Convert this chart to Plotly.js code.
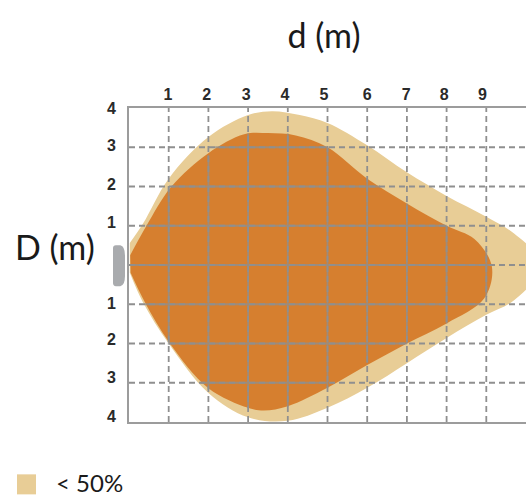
<!DOCTYPE html>
<html>
<head>
<meta charset="utf-8">
<script src="https://cdn.plot.ly/plotly-3.0.1.min.js"></script>
<style>html,body{margin:0;padding:0;background:#fff}</style>
</head>
<body>
<div id="plot" style="width:526px;height:498px"></div>
<script>
// outline of the light zone (< 50%)
var outerD = [0.02,0.35,1,2,3,3.6,4.3,5,6,7,8,9,9.7,10.4,9.7,9,8,7,6,5,4,3,2,1,0.35,0.02];
var outerH = [0.56,1.05,2.2,3.26,3.82,3.92,3.82,3.62,3.05,2.36,1.76,1.23,0.8,0,-0.9,-1.27,-1.86,-2.5,-3.13,-3.64,-3.97,-3.88,-3.26,-2,-0.95,-0.2];

// outline of the dark zone
var innerD = [0.03,0.44,1.07,2,2.9,3.5,4.2,5,6,7,8,8.7,9.14,8.95,8,7,6,5,4,3.4,3,2,1.03,0.4,0.04];
var innerH = [0.25,1,2,2.85,3.33,3.36,3.3,3,2.2,1.57,1,0.66,-0.04,-0.85,-1.49,-2,-2.55,-3.13,-3.6,-3.71,-3.64,-3.14,-2,-0.95,-0.2];

var gridD = [1,2,3,4,5,6,7,8,9];
var gridH = [3,2,1,0,-1,-2,-3];

// where the grid runs inside the dark zone it looks solid
var solidLow = [-2.03,-3.18,-3.64,-3.61,-3.13,-2.5,-2,-1.49,-0.81];
var solidHigh = [2,2.8,3.35,3.35,3,2.2,1.57,1,0.42];
var solidFrom = [2.17,1.07,0.44,0.03,0.4,1,1.8];
var solidTo = [5,6.32,8,9.14,8.9,7,5];

var topLabels = ["1","2","3","4","5","6","7","8","9"];
var topLabelPos = [0.98,1.96,2.95,3.93,4.91,6,6.98,7.94,8.9];
var sideLabels = ["4","3","2","1","1","2","3","4"];
var sideLabelPos = [3.99,3.05,2.05,1.08,-0.97,-1.9,-2.87,-3.85];

var gridColor = "#8f8f8f";

var dashX = [], dashY = [], solidX = [], solidY = [];
gridD.forEach(function(d, i) {
    dashX.push(d, d, null);
    dashY.push(-4, 4, null);
    solidX.push(d, d, null);
    solidY.push(solidLow[i], solidHigh[i], null);
});
gridH.forEach(function(h, i) {
    dashX.push(0, 10, null);
    dashY.push(h, h, null);
    solidX.push(solidFrom[i], solidTo[i], null);
    solidY.push(h, h, null);
});

var data = [
    {x: outerD, y: outerH, mode: "lines", fill: "toself", fillcolor: "#e8cd96",
     line: {color: "#e8cd96", width: 0, shape: "spline", smoothing: 1}, hoverinfo: "skip"},
    {x: innerD, y: innerH, mode: "lines", fill: "toself", fillcolor: "#d67f2f",
     line: {color: "#d67f2f", width: 0, shape: "spline", smoothing: 1}, hoverinfo: "skip"},
    {x: dashX, y: dashY, mode: "lines", line: {color: gridColor, width: 1.8, dash: "6px,4px"}, hoverinfo: "skip"},
    {x: solidX, y: solidY, mode: "lines", line: {color: gridColor, width: 1.8}, opacity: 0.75, hoverinfo: "skip"}
];

var layout = {
    width: 526,
    height: 498,
    margin: {l: 129, r: 0, t: 108, b: 76},
    showlegend: false,
    paper_bgcolor: "#fff",
    plot_bgcolor: "#fff",
    font: {family: "Lato, sans-serif", color: "#1a1a1a"},
    title: {text: "d (m)", font: {size: 34, family: "Lato, sans-serif", color: "#1a1a1a"},
            x: 324 / 526, xanchor: "center", y: 1 - 36 / 498, yanchor: "middle"},
    xaxis: {
        range: [0, 10], side: "top", showgrid: false, zeroline: false,
        showline: true, mirror: true, linecolor: "#9c9c9c", linewidth: 2,
        tickmode: "array", tickvals: topLabelPos, ticktext: topLabels,
        ticks: "", tickfont: {family: "Liberation Sans", size: 16, color: "#2a2a2a", weight: "bold"}
    },
    yaxis: {
        range: [-4, 4], showgrid: false, zeroline: false,
        showline: true, linecolor: "#9c9c9c", linewidth: 2,
        tickmode: "array", tickvals: sideLabelPos, ticktext: sideLabels,
        ticks: "", ticklabelstandoff: 8,
        tickfont: {family: "Liberation Sans", size: 16, color: "#2a2a2a", weight: "bold"}
    },
    annotations: [
        {text: "D (m)", xref: "paper", yref: "paper", x: -74 / 397, y: (421.7 - 246) / 313.7,
         xanchor: "center", yanchor: "middle", showarrow: false, font: {size: 34}},
        {text: "&lt; 50%", xref: "paper", yref: "paper", x: -75 / 397, y: (421.7 - 482) / 313.7,
         xanchor: "left", yanchor: "middle", showarrow: false, font: {size: 24}}
    ],
    shapes: [
        // lamp at the origin
        {type: "path", xref: "paper", yref: "paper", layer: "above", line: {width: 0}, fillcolor: "#a9abae",
         path: "M -0.0403 0.553 Q -0.0403 0.563 -0.033 0.563 L -0.022 0.563 Q -0.0101 0.56 -0.0101 0.53 L -0.0101 0.465 Q -0.0101 0.4355 -0.022 0.4326 L -0.033 0.4326 Q -0.0403 0.4326 -0.0403 0.4426 Z"},
        // legend swatch
        {type: "rect", xref: "paper", yref: "paper", line: {width: 0}, fillcolor: "#e8cd96",
         x0: -112 / 397, x1: -93 / 397, y0: (421.7 - 474) / 313.7, y1: (421.7 - 494) / 313.7}
    ]
};

Plotly.newPlot("plot", data, layout, {displayModeBar: false});
</script>
</body>
</html>
